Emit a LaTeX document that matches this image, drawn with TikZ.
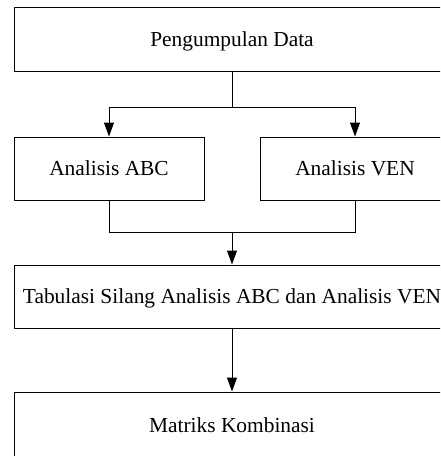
\documentclass[tikz,border=0pt]{standalone}
\usepackage{fontspec}
\setmainfont{Liberation Serif}
\usetikzlibrary{arrows.meta}
\begin{document}
\begin{tikzpicture}[x=1pt, y=-1pt,
  box/.style={draw, line width=1pt, rectangle, inner sep=0pt, text depth=0pt,
              font=\fontsize{21.4pt}{25pt}\selectfont},
  link/.style={line width=1pt},
  arr/.style={link, -{Triangle[length=14pt, width=10pt]}}]
  \clip (0,0) rectangle (440,456);
  \fill[white] (0,0) rectangle (440,456);

  % process steps
  \node[box, minimum width=436pt, minimum height=63.5pt] (pd)  at (232,39.25) {Pengumpulan Data};
  \node[box, minimum width=190pt, minimum height=63pt]   (abc) at (109,168.5) {Analisis ABC};
  \node[box, minimum width=190pt, minimum height=63pt]   (ven) at (355,168.5) {Analisis VEN};
  \node[box, minimum width=436pt, minimum height=63pt]   (tab) at (232,296.5) {Tabulasi Silang Analisis ABC dan Analisis VEN};
  \node[box, minimum width=436pt, minimum height=66pt]   (mat) at (232,425) {Matriks Kombinasi};

  % branch and merge points
  \coordinate (split) at (232,107);
  \coordinate (join)  at (232,232);

  \draw[link] (pd.south) -- (split);
  \draw[arr] (split) -| (abc.north);
  \draw[arr] (split) -| (ven.north);
  \draw[link] (abc.south) |- (join);
  \draw[link] (ven.south) |- (join);
  \draw[arr] (join) -- (tab.north);
  \draw[arr] (tab.south) -- (mat.north);
\end{tikzpicture}
\end{document}
